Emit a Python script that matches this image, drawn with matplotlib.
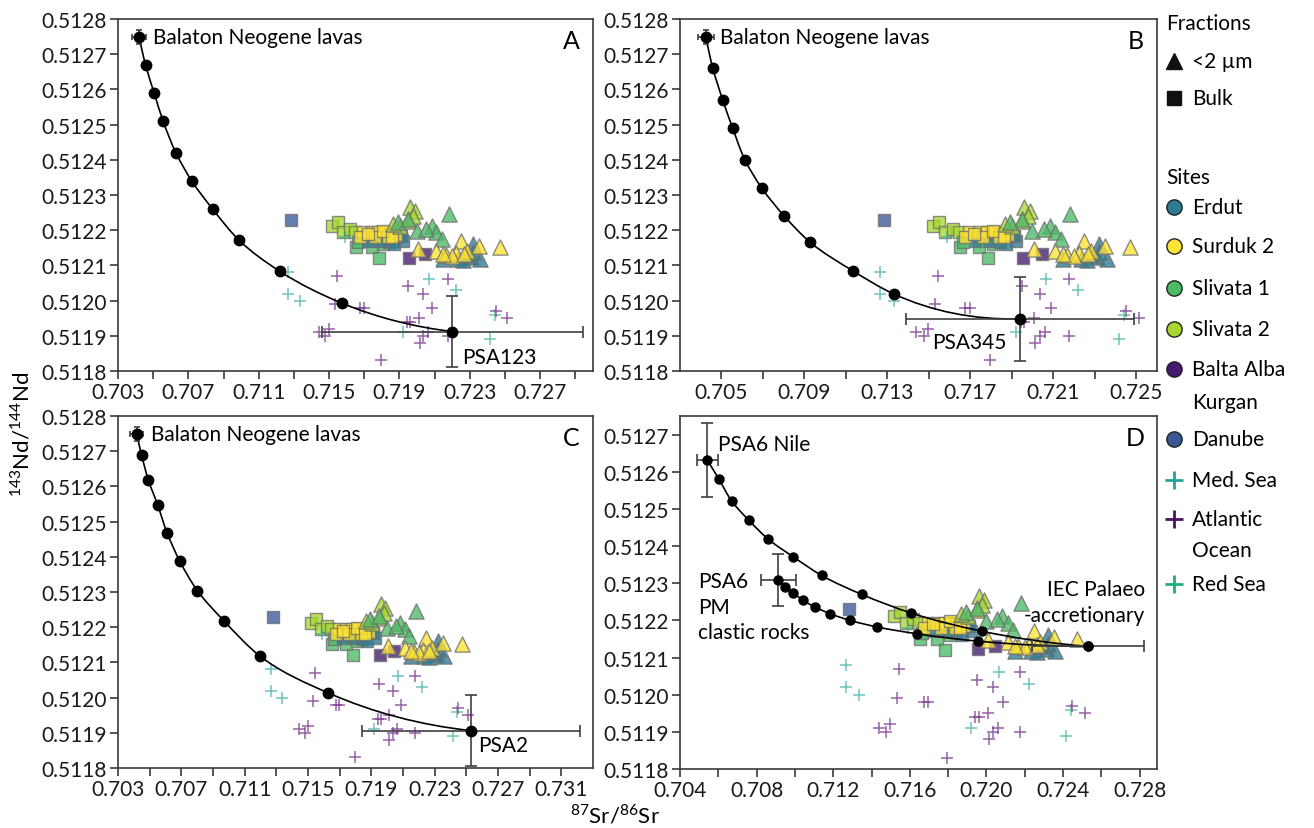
import numpy as np
import matplotlib
matplotlib.use('Agg')
import matplotlib.pyplot as plt
from matplotlib.path import Path
from matplotlib.patches import PathPatch

plt.rcParams['font.family'] = ['Lato', 'DejaVu Sans']
plt.rcParams['mathtext.fontset'] = 'custom'
plt.rcParams['mathtext.rm'] = 'Lato'
plt.rcParams['font.size'] = 15

# ---- clay samples: 87Sr/86Sr and 143Nd/144Nd ----
# bulk fraction (squares)
erdut_bulk_sr = [0.71722, 0.71842, 0.71921, 0.71911, 0.71789, 0.71870]
erdut_bulk_nd = [0.512170, 0.512166, 0.512170, 0.512184, 0.512170, 0.512160]
surduk_bulk_sr = [0.71694, 0.71741, 0.71779, 0.71817, 0.71845, 0.71883, 0.71675,
                  0.71760, 0.71836, 0.71807, 0.71720, 0.71860]
surduk_bulk_nd = [0.512194, 0.512194, 0.512194, 0.512194, 0.512189, 0.512186, 0.512180,
                  0.512180, 0.512180, 0.512198, 0.512190, 0.512180]
sliv1_bulk_sr = [0.71652, 0.71741, 0.71783, 0.71807, 0.71665]
sliv1_bulk_nd = [0.512151, 0.512151, 0.512121, 0.512161, 0.512166]
sliv2_bulk_sr = [0.71518, 0.71548, 0.71580, 0.71618, 0.71647]
sliv2_bulk_nd = [0.512213, 0.512222, 0.512194, 0.512203, 0.512194]
balta_bulk_sr = [0.71954, 0.72045]
balta_bulk_nd = [0.512122, 0.512132]
danube_bulk_sr = [0.71282]
danube_bulk_nd = [0.512230]

# <2 um fraction (triangles)
erdut_clay_sr = [0.72319, 0.72309, 0.72357, 0.72234, 0.72148, 0.72262, 0.72319, 0.72290]
erdut_clay_nd = [0.512161, 0.512123, 0.512118, 0.512118, 0.512118, 0.512114, 0.512137, 0.512130]
surduk_clay_sr = [0.72110, 0.72247, 0.72224, 0.72281, 0.72351, 0.72470, 0.72167, 0.72201,
                  0.72266, 0.72006, 0.72148]
surduk_clay_nd = [0.512142, 0.512170, 0.512135, 0.512142, 0.512156, 0.512151, 0.512130, 0.512128,
                  0.512133, 0.512146, 0.512132]
sliv1_clay_sr = [0.72182, 0.72082, 0.72110, 0.72139, 0.71997, 0.71893, 0.71950, 0.72053]
sliv1_clay_nd = [0.512246, 0.512213, 0.512194, 0.512175, 0.512199, 0.512222, 0.512232, 0.512203]
sliv2_clay_sr = [0.71959, 0.71988, 0.71979, 0.71950, 0.71902, 0.71865]
sliv2_clay_nd = [0.512265, 0.512255, 0.512241, 0.512227, 0.512213, 0.512218]

# marine sediments
med_sr = [0.71264, 0.71264, 0.71334, 0.71588, 0.71918, 0.72066, 0.72221]
med_nd = [0.512080, 0.512020, 0.512000, 0.512180, 0.511910, 0.512060, 0.512030]
red_sr = [0.72443, 0.72417]
red_nd = [0.511960, 0.511890]
atl_sr = [0.71543, 0.71948, 0.72035, 0.72177, 0.71532, 0.71675, 0.71696, 0.72087, 0.72449,
          0.72513, 0.71942, 0.71960, 0.72009, 0.71440, 0.71497, 0.71478, 0.72061, 0.72035,
          0.72014, 0.72177, 0.71796]
atl_nd = [0.512070, 0.512040, 0.512020, 0.512060, 0.511990, 0.511980, 0.511980, 0.511980, 0.511970,
          0.511950, 0.511940, 0.511940, 0.511950, 0.511910, 0.511920, 0.511900, 0.511910, 0.511900,
          0.511880, 0.511900, 0.511830]

# ---- mixing lines (10 % steps) ----
a_mix_sr = [0.70421, 0.70457, 0.70506, 0.70557, 0.70630, 0.70719, 0.70838, 0.70989, 0.71220, 0.71571, 0.72201]
a_mix_nd = [0.512748, 0.512669, 0.512589, 0.512509, 0.512419, 0.512340, 0.512260, 0.512171, 0.512083, 0.511993, 0.511912]
b_mix_sr = [0.70425, 0.70458, 0.70506, 0.70554, 0.70613, 0.70694, 0.70803, 0.70927, 0.71132, 0.71330, 0.71939]
b_mix_nd = [0.512750, 0.512661, 0.512570, 0.512490, 0.512400, 0.512320, 0.512240, 0.512166, 0.512085, 0.512019, 0.511948]
c_mix_sr = [0.70418, 0.70449, 0.70491, 0.70550, 0.70610, 0.70690, 0.70801, 0.70969, 0.71199, 0.71629, 0.72531]
c_mix_nd = [0.512749, 0.512689, 0.512619, 0.512548, 0.512468, 0.512388, 0.512304, 0.512218, 0.512117, 0.512013, 0.511906]
d_nile_sr = [0.70543, 0.70603, 0.70670, 0.70760, 0.70857, 0.70991, 0.71139, 0.71348, 0.71605, 0.71974, 0.72530]
d_nile_nd = [0.512631, 0.512580, 0.512521, 0.512469, 0.512420, 0.512371, 0.512321, 0.512270, 0.512220, 0.512171, 0.512130]
d_pm_sr = [0.70913, 0.70948, 0.70991, 0.71043, 0.71104, 0.71183, 0.71287, 0.71431, 0.71635, 0.71956, 0.72530]
d_pm_nd = [0.512308, 0.512291, 0.512274, 0.512254, 0.512236, 0.512218, 0.512200, 0.512182, 0.512164, 0.512144, 0.512130]

# end-member uncertainties (xerr, yerr)
balaton_err = (0.0004, 0.00002)
psa123_err = (0.0074, 0.0001)
psa345_err = (0.0055, 0.00012)
psa2_err = (0.0069, 0.0001)
nile_err = (0.00054, 0.0001)
pm_err = (0.0009, 0.00007)
iec_err = (0.0029, 0.0)

# ---- axis ticks ----
a_xticks = [0.703, 0.705, 0.707, 0.709, 0.711, 0.713, 0.715, 0.717, 0.719, 0.721, 0.723, 0.725, 0.727, 0.729]
a_xlabels = ['0.703', '', '0.707', '', '0.711', '', '0.715', '', '0.719', '', '0.723', '', '0.727', '']
b_xticks = [0.705, 0.707, 0.709, 0.711, 0.713, 0.715, 0.717, 0.719, 0.721, 0.723, 0.725]
b_xlabels = ['0.705', '', '0.709', '', '0.713', '', '0.717', '', '0.721', '', '0.725']
c_xticks = [0.703, 0.705, 0.707, 0.709, 0.711, 0.713, 0.715, 0.717, 0.719, 0.721, 0.723, 0.725,
            0.727, 0.729, 0.731]
c_xlabels = ['0.703', '', '0.707', '', '0.711', '', '0.715', '', '0.719', '', '0.723', '',
             '0.727', '', '0.731']
d_xticks = [0.704, 0.706, 0.708, 0.710, 0.712, 0.714, 0.716, 0.718, 0.720, 0.722, 0.724, 0.726, 0.728]
d_xlabels = ['0.704', '', '0.708', '', '0.712', '', '0.716', '', '0.720', '', '0.724', '', '0.728']
abc_yticks = [0.5118, 0.5119, 0.5120, 0.5121, 0.5122, 0.5123, 0.5124, 0.5125, 0.5126, 0.5127, 0.5128]
d_yticks = [0.5118, 0.5119, 0.5120, 0.5121, 0.5122, 0.5123, 0.5124, 0.5125, 0.5126, 0.5127]

# colours
c_erdut = '#2d7a93'
c_surduk = '#fde333'
c_sliv1 = '#4cbb64'
c_sliv2 = '#a8d830'
c_balta = '#44196e'
c_danube = '#3a5896'
c_med = '#23a39b'
c_atl = '#4a1262'
c_red = '#22ad7d'
axcol = '#3a3a3a'


def draw_samples(ax):
    edge = '#6e6e6e'
    for sr, nd, col in [(sliv2_bulk_sr, sliv2_bulk_nd, c_sliv2), (sliv1_bulk_sr, sliv1_bulk_nd, c_sliv1),
                        (erdut_bulk_sr, erdut_bulk_nd, c_erdut), (surduk_bulk_sr, surduk_bulk_nd, c_surduk),
                        (balta_bulk_sr, balta_bulk_nd, c_balta), (danube_bulk_sr, danube_bulk_nd, c_danube)]:
        ax.scatter(sr, nd, marker='s', s=85, c=col, alpha=0.78, edgecolors=edge, linewidths=1, zorder=2)
    for sr, nd, col in [(sliv2_clay_sr, sliv2_clay_nd, c_sliv2), (sliv1_clay_sr, sliv1_clay_nd, c_sliv1),
                        (erdut_clay_sr, erdut_clay_nd, c_erdut), (surduk_clay_sr, surduk_clay_nd, c_surduk)]:
        ax.scatter(sr, nd, marker='^', s=120, c=col, alpha=0.78, edgecolors=edge, linewidths=1, zorder=2)
    ax.scatter(med_sr, med_nd, marker='+', s=70, c=c_med, alpha=0.65, linewidths=1.1, zorder=2)
    ax.scatter(red_sr, red_nd, marker='+', s=70, c=c_red, alpha=0.65, linewidths=1.1, zorder=2)
    ax.scatter(atl_sr, atl_nd, marker='+', s=70, c='#7d3a92', alpha=0.8, linewidths=1.1, zorder=2)


def smooth_line(ax, xs, ys):
    # smoothed connector through the mixing points: cubic Hermite with
    # chord-length parameter measured on screen, drawn as Bezier segments
    pts = np.column_stack([xs, ys])
    scr = ax.transData.transform(pts)
    h = np.hypot(*np.diff(scr, axis=0).T)
    t = np.concatenate([[0], np.cumsum(h)])
    n = len(pts)
    m = np.zeros_like(pts)
    for i in range(1, n - 1):
        h0, h1 = h[i - 1], h[i]
        m[i] = (h1 / (h0 + h1)) * (pts[i] - pts[i - 1]) / h0 + (h0 / (h0 + h1)) * (pts[i + 1] - pts[i]) / h1

    def end_slope(p0, p1, p2, t0, t1, t2):
        return (p0 * (t2 - t1) / ((t0 - t1) * (t0 - t2)) + p1 * (t2 - t0) / ((t1 - t0) * (t1 - t2))
                + p2 * ((t2 - t0) + (t2 - t1)) / ((t2 - t0) * (t2 - t1)))

    m[-1] = end_slope(pts[-3], pts[-2], pts[-1], t[-3], t[-2], t[-1])
    m[0] = -end_slope(pts[2], pts[1], pts[0], -t[2], -t[1], -t[0])
    verts = [pts[0]]
    codes = [Path.MOVETO]
    for i in range(n - 1):
        c1 = pts[i] + m[i] * h[i] / 3.0
        c2 = pts[i + 1] - m[i + 1] * h[i] / 3.0
        verts += [c1, c2, pts[i + 1]]
        codes += [Path.CURVE4] * 3
    ax.add_patch(PathPatch(Path(verts, codes), fill=False, lw=1.2, edgecolor='black', zorder=3))


def mixing(ax, xs, ys, ms=7.5):
    smooth_line(ax, xs, ys)
    ax.plot(xs, ys, 'o', color='black', ms=ms, zorder=5)


def endmember_err(ax, x, y, err, cap=4):
    ax.errorbar([x], [y], xerr=[err[0]], yerr=[err[1]] if err[1] > 0 else None, fmt='none',
                ecolor='#404040', elinewidth=1.2, capsize=cap, capthick=1.2, zorder=4)


def setup(ax, xlim, xticks, xlabels, ylim, yticks, letter):
    ax.set_xlim(xlim)
    ax.set_ylim(ylim)
    ax.set_xticks(xticks)
    ax.set_xticklabels(xlabels)
    ax.set_yticks(yticks)
    ax.set_yticklabels(['%.4f' % v for v in yticks])
    ax.tick_params(direction='out', length=6, width=1.2, color=axcol, labelsize=15,
                   labelcolor='#1a1a1a', pad=2)
    for sp in ax.spines.values():
        sp.set_color(axcol)
        sp.set_linewidth(1.2)
    ax.text(0.955, 0.94, letter, transform=ax.transAxes, ha='center', va='center', fontsize=18)


fig = plt.figure(figsize=(13.14, 8.29), dpi=100)
axA = fig.add_axes([0.0898, 0.5513, 0.3615, 0.4246])
axB = fig.add_axes([0.5175, 0.5513, 0.3630, 0.4246])
axC = fig.add_axes([0.0898, 0.0724, 0.3615, 0.4246])
axD = fig.add_axes([0.5175, 0.0712, 0.3630, 0.4258])

setup(axA, (0.703, 0.730), a_xticks, a_xlabels, (0.5118, 0.5128), abc_yticks, 'A')
setup(axB, (0.703, 0.726), b_xticks, b_xlabels, (0.5118, 0.5128), abc_yticks, 'B')
setup(axC, (0.703, 0.733), c_xticks, c_xlabels, (0.5118, 0.5128), abc_yticks, 'C')
setup(axD, (0.704, 0.7289), d_xticks, d_xlabels, (0.5118, 0.51275), d_yticks, 'D')

for ax in (axA, axB, axC, axD):
    draw_samples(ax)

# A, B, C: Balaton lavas mixed with one sample each
for ax, sr, nd, err, name, off, ha in [
        (axA, a_mix_sr, a_mix_nd, psa123_err, 'PSA123', (7, -18), 'left'),
        (axB, b_mix_sr, b_mix_nd, psa345_err, 'PSA345', (-10, -17), 'right'),
        (axC, c_mix_sr, c_mix_nd, psa2_err, 'PSA2', (5, -10), 'left')]:
    endmember_err(ax, sr[0], nd[0], balaton_err, cap=2.5)
    endmember_err(ax, sr[-1], nd[-1], err)
    mixing(ax, sr, nd)
    ax.annotate('Balaton Neogene lavas', (sr[0], nd[0]), xytext=(10, 0), textcoords='offset points',
                va='center', ha='left', fontsize=15)
    ax.annotate(name, (sr[-1], nd[-1]), xytext=off, textcoords='offset points',
                va='center', ha=ha, fontsize=15)

# D: Nile and PM clastic rocks mixed with the IEC end-member
endmember_err(axD, d_nile_sr[0], d_nile_nd[0], nile_err)
endmember_err(axD, d_pm_sr[0], d_pm_nd[0], pm_err)
endmember_err(axD, d_nile_sr[-1], d_nile_nd[-1], iec_err)
mixing(axD, d_nile_sr, d_nile_nd, ms=6.5)
mixing(axD, d_pm_sr, d_pm_nd, ms=6.5)
axD.annotate('PSA6 Nile', (d_nile_sr[0], d_nile_nd[0]), xytext=(8, 12), textcoords='offset points',
             va='center', ha='left', fontsize=15)
axD.annotate('PSA6\nPM\nclastic rocks', (d_pm_sr[0], d_pm_nd[0]), xytext=(-58, -19),
             textcoords='offset points', va='center', ha='left', fontsize=15, linespacing=1.35)
axD.annotate('IEC Palaeo\n-accretionary', (d_nile_sr[-1], d_nile_nd[-1]), xytext=(41, 32),
             textcoords='offset points', va='center', ha='right', multialignment='right',
             fontsize=15, linespacing=1.35)

fig.text(0.016, 0.476, r'$^{143}$Nd/$^{144}$Nd', rotation=90, ha='center', va='center', fontsize=16)
fig.text(0.468, 0.017, r'$^{87}$Sr/$^{86}$Sr', ha='center', va='center', fontsize=16)

# legend drawn on a pixel-scaled overlay
lax = fig.add_axes([0, 0, 1, 1])
lax.set_xlim(0, 1314)
lax.set_ylim(829, 0)
lax.axis('off')
mx, tx = 1174, 1192
lax.text(1166, 24, 'Fractions', va='center', ha='left', fontsize=15)
lax.plot(mx, 62, '^', color='#111111', ms=12)
lax.text(tx, 62, '<2 µm', va='center', ha='left', fontsize=15)
lax.plot(mx, 99, 's', color='#111111', ms=10)
lax.text(tx, 99, 'Bulk', va='center', ha='left', fontsize=15)
lax.text(1166, 178, 'Sites', va='center', ha='left', fontsize=15)
site_rows = [(208, c_erdut, 'Erdut'), (247, c_surduk, 'Surduk 2'), (289, c_sliv1, 'Slivata 1'),
             (330, c_sliv2, 'Slivata 2'), (370, c_balta, 'Balta Alba'), (440, c_danube, 'Danube')]
for y, col, lab in site_rows:
    lax.plot(mx, y, 'o', color=col, mec='#222222', mew=1, ms=11)
    lax.text(tx, y, lab, va='center', ha='left', fontsize=15)
lax.text(tx, 403, 'Kurgan', va='center', ha='left', fontsize=15)
for y, col, lab in [(481, c_med, 'Med. Sea'), (520, c_atl, 'Atlantic'), (585, c_red, 'Red Sea')]:
    lax.plot(mx, y, '+', color=col, ms=13, mew=2)
    lax.text(tx, y, lab, va='center', ha='left', fontsize=15)
lax.text(tx, 551, 'Ocean', va='center', ha='left', fontsize=15)

fig.savefig('out.png', dpi=100)
